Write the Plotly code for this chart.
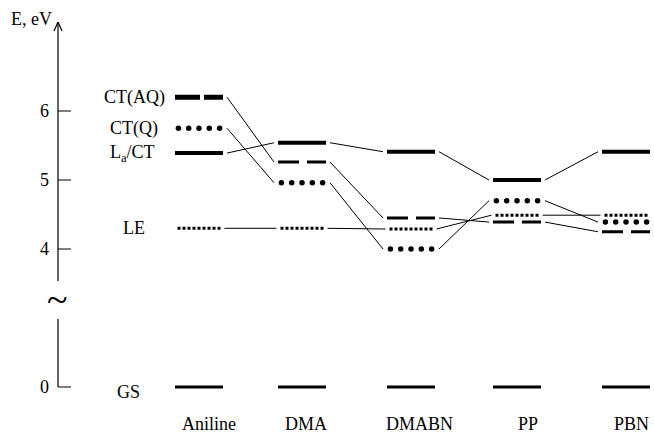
import plotly.graph_objects as go
import numpy as np

# ---------------- data ----------------
molecules = ["Aniline", "DMA", "DMABN", "PP", "PBN"]
mol_x = [0.0, 0.965, 1.986, 2.979, 4.0]          # column positions
label_dx = [0.094, 0.037, 0.075, 0.103, 0.052]    # category label offsets

E_LaCT = [5.39, 5.54, 5.41, 5.00, 5.41]
E_CTAQ = [6.20, 5.26, 4.45, 4.39, 4.25]
E_CTQ = [5.75, 4.96, 4.00, 4.70, 4.39]
E_LE = [4.30, 4.30, 4.29, 4.49, 4.49]
E_GS = [0.0, 0.0, 0.0, 0.0, 0.0]

tick_vals = [0, 4, 5, 6]
tick_text = ["0", "4", "5", "6"]

# ---------------- geometry helpers ----------------
W, H = 654, 435
PX = 106.75   # px per x-unit
PY = 69.0     # px per eV
HW = 24 / PX  # half width of a level
GAP = 4 / PX


def disp(e):
    """broken axis: energies below 3 eV are pulled up to 2 display units"""
    return e if e >= 3 else 2.0 + e


def xpx(p):
    return (p - 199) / PX


def ypx(p):
    return 4 - (p - 249) / PY


FONT = dict(family="Liberation Serif", size=18, color="black")

fig = go.Figure()


def add_level(x, e, width, dash="solid", hw=HW):
    fig.add_trace(go.Scatter(x=[x - hw, x + hw], y=[disp(e), disp(e)], mode="lines",
                             line=dict(color="black", width=width, dash=dash),
                             hoverinfo="skip", showlegend=False))


def add_connectors(energies, hw_l=HW, hw_r=HW):
    for i in range(len(energies) - 1):
        fig.add_trace(go.Scatter(
            x=[mol_x[i] + hw_l + GAP, mol_x[i + 1] - hw_r - GAP],
            y=[disp(energies[i]), disp(energies[i + 1])], mode="lines",
            line=dict(color="black", width=1), hoverinfo="skip", showlegend=False))


# connectors
add_connectors(E_LaCT)
add_connectors(E_CTAQ)
add_connectors(E_CTQ)
add_connectors(E_LE, hw_l=21.5 / PX, hw_r=21.5 / PX)

# levels
for i, x in enumerate(mol_x):
    add_level(x, E_LaCT[i], 4)
    if i == 0:
        add_level(x, E_CTAQ[i], 5, dash="25px,4px")
    else:
        add_level(x, E_CTAQ[i], 3, dash="21px,8px")
    add_level(x, E_LE[i], 3, dash="3px,2px", hw=21.5 / PX)
    add_level(x, E_GS[i], 3)
    offs = np.array([-2, -1, 0, 1, 2]) * (10.3 / PX)
    fig.add_trace(go.Scatter(x=x + offs, y=[disp(E_CTQ[i])] * 5, mode="markers",
                             marker=dict(color="black", size=5.5, symbol="circle"),
                             hoverinfo="skip", showlegend=False))

# ---------------- axis (drawn) ----------------
ax_x = xpx(58)
y_top = ypx(22)
y_brk_hi = ypx(281)
y_brk_lo = ypx(319)
shapes = []
line_style = dict(color="black", width=1.2)
shapes.append(dict(type="line", xref="x", yref="y", x0=ax_x, x1=ax_x, y0=y_brk_hi, y1=y_top, line=line_style))
shapes.append(dict(type="line", xref="x", yref="y", x0=ax_x, x1=ax_x, y0=disp(0), y1=y_brk_lo, line=line_style))
# arrow head
shapes.append(dict(type="line", xref="x", yref="y", x0=ax_x, x1=ax_x - 4 / PX, y0=y_top, y1=y_top - 9 / PY, line=line_style))
shapes.append(dict(type="line", xref="x", yref="y", x0=ax_x, x1=ax_x + 4 / PX, y0=y_top, y1=y_top - 9 / PY, line=line_style))

annotations = []
for v, t in zip(tick_vals, tick_text):
    shapes.append(dict(type="line", xref="x", yref="y", x0=ax_x, x1=ax_x + 13 / PX,
                       y0=disp(v), y1=disp(v), line=dict(color="black", width=1)))
    annotations.append(dict(x=xpx(51), y=disp(v), text=t, showarrow=False,
                            xanchor="right", yanchor="middle", font=FONT))

annotations.append(dict(x=xpx(54), y=ypx(19), text="E, eV", showarrow=False,
                        xanchor="right", yanchor="middle", font=FONT))
annotations.append(dict(x=xpx(57), y=ypx(299), text="~", showarrow=False,
                        xanchor="center", yanchor="middle",
                        font=dict(family="Liberation Serif", size=38, color="black")))

# level labels
lvl_labels = [("CT(AQ)", E_CTAQ[0], 167), ("CT(Q)", E_CTQ[0], 160),
              ("L<sub>a</sub>/CT", E_LaCT[0], 157), ("LE", E_LE[0], 147)]
for txt, e, px in lvl_labels:
    annotations.append(dict(x=xpx(px), y=disp(e), text=txt, showarrow=False,
                            xanchor="right", yanchor="middle", font=FONT))
annotations.append(dict(x=xpx(142), y=disp(E_GS[0]), yshift=-5, text="GS", showarrow=False,
                        xanchor="right", yanchor="middle", font=FONT))

# category labels
for name, x, dx in zip(molecules, mol_x, label_dx):
    annotations.append(dict(x=x + dx, y=ypx(424), text=name, showarrow=False,
                            xanchor="center", yanchor="middle", font=FONT))

fig.update_layout(
    width=W, height=H, margin=dict(l=0, r=0, t=0, b=0),
    paper_bgcolor="white", plot_bgcolor="white",
    xaxis=dict(visible=False, range=[xpx(0), xpx(W)], fixedrange=True),
    yaxis=dict(visible=False, range=[ypx(H), ypx(0)], fixedrange=True),
    shapes=shapes, annotations=annotations, showlegend=False,
)

fig.write_html("out.html", config={"displayModeBar": False},
               post_script="document.body.style.margin='0';document.body.style.overflow='hidden';")
